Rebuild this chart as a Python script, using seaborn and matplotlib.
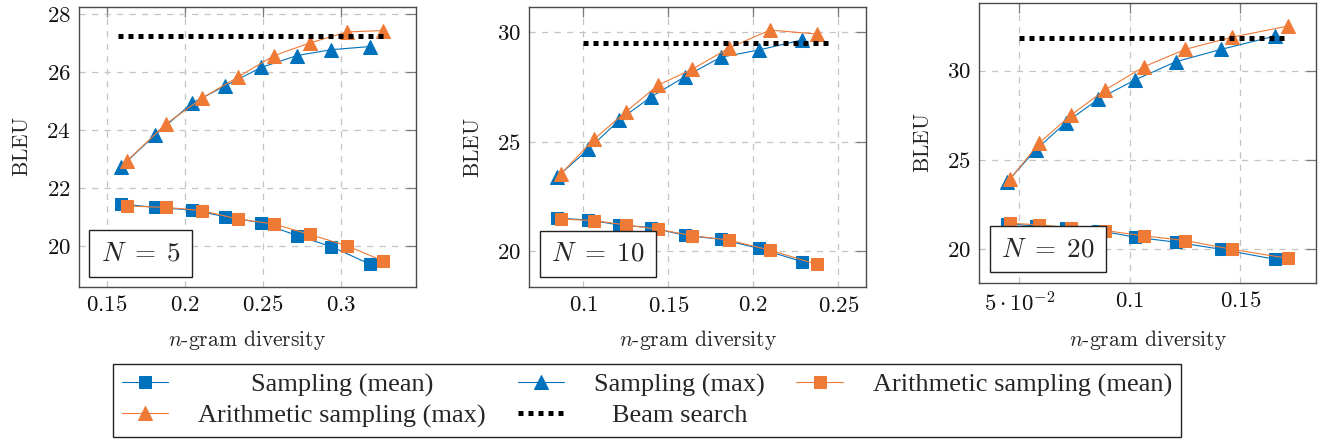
import numpy as np
import pandas as pd
import matplotlib
matplotlib.use("Agg")
import matplotlib.pyplot as plt
import seaborn as sns
from matplotlib.offsetbox import AnchoredText

# ---------------- data ----------------
panel_titles = [r"$N\;=\;5$", r"$N\;=\;10$", r"$N\;=\;20$"]

# N = 5
s_x5 = [0.159, 0.181, 0.2045, 0.226, 0.249, 0.272, 0.294, 0.319]
s_max5 = [22.74, 23.84, 24.93, 25.53, 26.16, 26.57, 26.77, 26.88]
s_mean5 = [21.46, 21.34, 21.25, 21.02, 20.81, 20.37, 19.99, 19.38]
a_x5 = [0.163, 0.188, 0.211, 0.234, 0.257, 0.280, 0.304, 0.327]
a_max5 = [22.95, 24.22, 25.10, 25.83, 26.56, 27.00, 27.38, 27.43]
a_mean5 = [21.39, 21.34, 21.23, 20.94, 20.77, 20.41, 20.02, 19.50]
beam_x5 = [0.157, 0.327]
beam5 = 27.25

# N = 10
s_x10 = [0.0847, 0.103, 0.1212, 0.1396, 0.1598, 0.181, 0.2034, 0.2288]
s_max10 = [23.40, 24.65, 25.99, 27.03, 27.97, 28.86, 29.19, 29.65]
s_mean10 = [21.50, 21.42, 21.19, 21.07, 20.72, 20.53, 20.12, 19.51]
a_x10 = [0.0867, 0.1063, 0.1251, 0.1441, 0.1641, 0.1855, 0.2098, 0.2373]
a_max10 = [23.52, 25.11, 26.37, 27.59, 28.31, 29.27, 30.10, 29.92]
a_mean10 = [21.46, 21.39, 21.19, 20.99, 20.70, 20.50, 20.04, 19.39]
beam_x10 = [0.1, 0.247]
beam10 = 29.53

# N = 20
s_x20 = [0.0446, 0.0574, 0.071, 0.0857, 0.1023, 0.1208, 0.1413, 0.1657]
s_max20 = [23.79, 25.56, 27.09, 28.40, 29.48, 30.50, 31.19, 31.94]
s_mean20 = [21.42, 21.31, 21.21, 21.05, 20.68, 20.40, 20.00, 19.44]
a_x20 = [0.0458, 0.0589, 0.0734, 0.0888, 0.1064, 0.125, 0.1461, 0.1717]
a_max20 = [23.92, 25.94, 27.52, 28.92, 30.22, 31.19, 31.87, 32.50]
a_mean20 = [21.46, 21.37, 21.21, 21.05, 20.75, 20.49, 20.00, 19.49]
beam_x20 = [0.05, 0.1702]
beam20 = 31.81

# ticks
xticks5 = [0.15, 0.2, 0.25, 0.3]
xticklabels5 = [r"$0.15$", r"$0.2$", r"$0.25$", r"$0.3$"]
yticks5 = [20, 22, 24, 26, 28]
xticks10 = [0.1, 0.15, 0.2, 0.25]
xticklabels10 = [r"$0.1$", r"$0.15$", r"$0.2$", r"$0.25$"]
yticks10 = [20, 25, 30]
xticks20 = [0.05, 0.1, 0.15]
xticklabels20 = [r"$5\cdot10^{-2}$", r"$0.1$", r"$0.15$"]
yticks20 = [20, 25, 30]

labels = ["Sampling (mean)", "Sampling (max)", "Arithmetic sampling (mean)",
          "Arithmetic sampling (max)", "Beam search"]

# ---------------- style ----------------
sns.set_style("white")
plt.rcParams["mathtext.fontset"] = "cm"
plt.rcParams["font.family"] = ["cmr10", "DejaVu Serif"]
plt.rcParams["axes.unicode_minus"] = False

BLUE = "#0072BD"
ORANGE = "#EF7A36"

W, H = 1323, 442
fig = plt.figure(figsize=(W / 100, H / 100), dpi=100)

rects = [
    (79 / W, 1 - 287 / H, 337 / W, 280 / H),
    (529.3 / W, 1 - 287.3 / H, 336.7 / W, 280 / H),
    (979.3 / W, 1 - 282.7 / H, 336.7 / W, 279.4 / H),
]
xlims = [(0.132, 0.3483), (0.0682, 0.2663), (0.0319, 0.1842)]
ylims = [(18.6, 28.24), (18.34, 31.14), (18.13, 33.77)]

panels = [
    (s_x5, s_mean5, s_max5, a_x5, a_mean5, a_max5, beam_x5, beam5, xticks5, xticklabels5, yticks5),
    (s_x10, s_mean10, s_max10, a_x10, a_mean10, a_max10, beam_x10, beam10, xticks10, xticklabels10, yticks10),
    (s_x20, s_mean20, s_max20, a_x20, a_mean20, a_max20, beam_x20, beam20, xticks20, xticklabels20, yticks20),
]

TICK_FS = 16.5
LABEL_FS = 15.5

axes = []
for i, (rect, p) in enumerate(zip(rects, panels)):
    sx, smean, smax, ax_, amean, amax, bx, by, xt, xtl, yt = p
    ax = fig.add_axes(rect)
    axes.append(ax)
    ms_sq = 8.3
    ms_tr = 10.5
    lw = 0.8
    sns.lineplot(x=sx, y=smean, ax=ax, color=BLUE, marker="s", markersize=ms_sq,
                 markeredgecolor=BLUE, linewidth=lw, sort=False, estimator=None,
                 legend=False, label=labels[0])
    sns.lineplot(x=sx, y=smax, ax=ax, color=BLUE, marker="^", markersize=ms_tr,
                 markeredgecolor=BLUE, linewidth=lw, sort=False, estimator=None,
                 legend=False, label=labels[1])
    sns.lineplot(x=ax_, y=amean, ax=ax, color=ORANGE, marker="s", markersize=ms_sq,
                 markeredgecolor=ORANGE, linewidth=lw, sort=False, estimator=None,
                 legend=False, label=labels[2])
    sns.lineplot(x=ax_, y=amax, ax=ax, color=ORANGE, marker="^", markersize=ms_tr,
                 markeredgecolor=ORANGE, linewidth=lw, sort=False, estimator=None,
                 legend=False, label=labels[3])
    sns.lineplot(x=bx, y=[by] * len(bx), ax=ax, color="black", linewidth=3.6,
                 linestyle=(0, (1, 1)), sort=False, estimator=None,
                 legend=False, label=labels[4])

    ax.set_xlim(*xlims[i])
    ax.set_ylim(*ylims[i])
    ax.set_xticks(xt)
    ax.set_xticklabels(xtl)
    ax.set_yticks(yt)
    ax.set_yticklabels([r"$%d$" % v for v in yt])
    ax.tick_params(axis="both", which="major", direction="in", top=True, right=True,
                   length=7.5, width=0.9, color="#7a7a7a", labelsize=TICK_FS, pad=6,
                   labelcolor="#111111")
    ax.grid(True, color="#c4c4c4", linestyle=(0, (5, 5)), linewidth=0.9)
    ax.set_axisbelow(True)
    for sp in ax.spines.values():
        sp.set_visible(True)
        sp.set_color("#4a4a4a")
        sp.set_linewidth(1.0)
    ax.set_ylabel(r"$\mathrm{BLEU}$", fontsize=LABEL_FS, labelpad=10)
    ax.set_xlabel(r"$n$-gram diversity", fontsize=LABEL_FS, labelpad=9)

    at = AnchoredText(panel_titles[i], loc="lower left", prop=dict(size=19.5),
                      pad=0.42, borderpad=0.38, frameon=True)
    at.patch.set_boxstyle("square,pad=0")
    at.patch.set_edgecolor("#222222")
    at.patch.set_linewidth(1.0)
    ax.add_artist(at)

# ---------------- legend ----------------
h, l = axes[0].get_legend_handles_labels()
hm = dict(zip(l, h))
order = [labels[0], labels[3], labels[1], labels[4], labels[2]]
leg = fig.legend([hm[k] for k in order], order, ncol=3, loc="upper left",
                 bbox_to_anchor=(113 / W, 1 - 364 / H),
                 prop=dict(family="Liberation Serif", size=19),
                 frameon=True, fancybox=False, edgecolor="#222222", framealpha=1,
                 handlelength=1.75, handletextpad=1.15, columnspacing=1.2,
                 labelspacing=0.28, borderpad=0.33, borderaxespad=0)
leg.get_frame().set_linewidth(1.0)

# center the text inside each legend column (pgfplots style)
fig.canvas.draw()
renderer = fig.canvas.get_renderer()
try:
    cols = leg._legend_handle_box.get_children()
    for col in cols:
        items = col.get_children()
        widths = [it.get_children()[1].get_window_extent(renderer).width for it in items]
        mw = max(widths)
        for it, w in zip(items, widths):
            it.sep = it.sep + (mw - w) / 2 * 72 / fig.dpi
except Exception:
    pass

fig.savefig("out.png", dpi=100)
